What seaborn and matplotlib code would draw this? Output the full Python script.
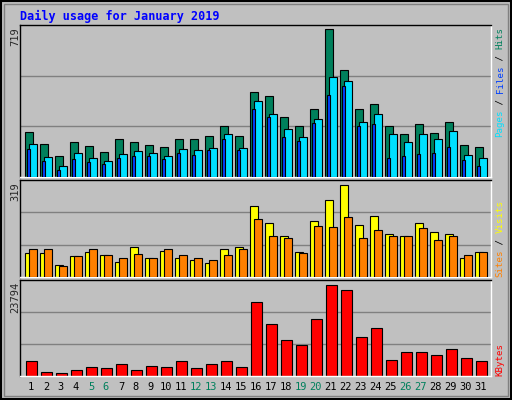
import numpy as np
import pandas as pd
import matplotlib
matplotlib.use("Agg")
import matplotlib.pyplot as plt
import seaborn as sns

days = list(range(1, 32))
hits = [220,163,104,172,153,124,187,172,158,148,187,187,202,250,202,412,392,294,246,333,719,519,329,353,246,211,260,216,270,158,148]
pages = [163,99,55,119,94,80,114,129,119,104,138,133,143,211,143,368,309,236,197,280,485,465,270,309,207,172,207,187,226,109,94]
files = [138,80,36,89,75,65,94,104,104,89,119,109,133,187,133,333,294,197,177,265,397,441,246,260,94,104,114,119,148,85,55]
visits = [84,84,43,74,88,77,53,105,64,91,64,57,50,95,105,244,185,143,88,195,265,319,178,209,150,143,185,154,147,67,88]
sites = [95,95,39,71,95,77,64,81,67,98,77,64,60,77,98,202,143,133,84,175,171,206,133,161,143,143,168,129,140,77,88]
kbytes = [3995,1129,868,1650,2431,2171,3213,1650,2692,2431,3995,2171,3213,3995,2431,19365,13634,9466,8163,14936,23794,22491,10247,12592,4255,6339,6339,5558,7121,4776,3995]
weekends = [5, 6, 12, 13, 19, 20, 26, 27]

sns.set_style("white")
plt.rcParams['font.family'] = ['DejaVu Sans Mono', 'DejaVu Sans']

BG = "#C0C0C0"
fig = plt.figure(figsize=(5.12, 4.0), dpi=100, facecolor=BG)
W, H = 512, 400

def mkax(top, bottom):
    ax = fig.add_axes([20 / W, (H - bottom) / H, 471 / W, (bottom - top) / H])
    ax.set_facecolor(BG)
    return ax

d = np.array(days, dtype=float)

def bars(ax, off, vals, w, color, z):
    sns.barplot(x=d + off, y=vals, native_scale=True, orient="x", width=w,
                color=color, saturation=1, edgecolor="black", linewidth=0.8, ax=ax,
                zorder=z, errorbar=None)

def style(ax, ymax):
    ax.set_xlim(0.27, 31.67)
    ax.set_ylim(0, ymax)
    ax.set_yticks([ymax * 1 / 3, ymax * 2 / 3])
    ax.grid(axis="y", color="#808080", linewidth=1)
    ax.set_axisbelow(True)
    ax.tick_params(length=0, labelleft=False, labelbottom=False)
    ax.set_xlabel(""); ax.set_ylabel("")
    for s in ax.spines.values():
        s.set_linewidth(1)
    ax.spines["left"].set_color("black"); ax.spines["top"].set_color("black")
    ax.spines["right"].set_color("white"); ax.spines["bottom"].set_color("white")

ax1 = mkax(25, 177)
bars(ax1, -0.13, hits, 0.49, "#00805C", 2)
bars(ax1, 0.13, pages, 0.49, "#00E0FF", 3)
bars(ax1, -0.19, files, 0.2, "#0040FF", 4)
style(ax1, 740)

ax2 = mkax(180, 277)
bars(ax2, -0.13, visits, 0.49, "#FFFF00", 2)
bars(ax2, 0.13, sites, 0.49, "#FF8000", 3)
style(ax2, 335)

ax3 = mkax(280, 376)
bars(ax3, 0.04, kbytes, 0.69, "#FF0000", 2)
style(ax3, 24990)

for day in days:
    c = "#00805C" if day in weekends else "black"
    ax3.text(day, -0.06, str(day), transform=ax3.get_xaxis_transform(),
             ha="center", va="top", fontsize=7.5, color=c)

fig.text(20 / W, (H - 16) / H, "Daily usage for January 2019", color="#0000FF",
         fontsize=8.5, fontweight="bold", va="center", ha="left")
fig.text(15 / W, (H - 27) / H, str(max(hits)), rotation=90, va="top", ha="center", fontsize=7.5)
fig.text(15 / W, (H - 182) / H, str(max(visits)), rotation=90, va="top", ha="center", fontsize=7.5)
fig.text(15 / W, (H - 282) / H, str(max(kbytes)), rotation=90, va="top", ha="center", fontsize=7.5)

def vlegend(y_bottom, parts):
    y = (H - y_bottom) / H
    x = 500 / W
    for txt, col in parts:
        t = fig.text(x, y, txt, rotation=90, color=col, fontsize=6.6,
                     va="bottom", ha="center")
        fig.canvas.draw()
        bb = t.get_window_extent()
        y += bb.height / fig.bbox.height

vlegend(137, [("Pages", "#00E0FF"), (" / ", "#000000"), ("Files", "#0040FF"), (" / ", "#000000"), ("Hits", "#00805C")])
vlegend(277, [("Sites", "#FF8000"), (" / ", "#000000"), ("Visits", "#FFFF00")])
vlegend(376, [("KBytes", "#FF0000")])

fig.patches.append(matplotlib.patches.Rectangle((0.002, 0.002), 0.996, 0.996, transform=fig.transFigure,
                   fill=False, edgecolor="black", linewidth=1.5))
fig.patches.append(matplotlib.patches.Rectangle((4 / W, 4 / H), 504 / W, 392 / H, transform=fig.transFigure,
                   fill=False, edgecolor="#808080", linewidth=1))

fig.savefig("out.png", dpi=100, facecolor=BG)
